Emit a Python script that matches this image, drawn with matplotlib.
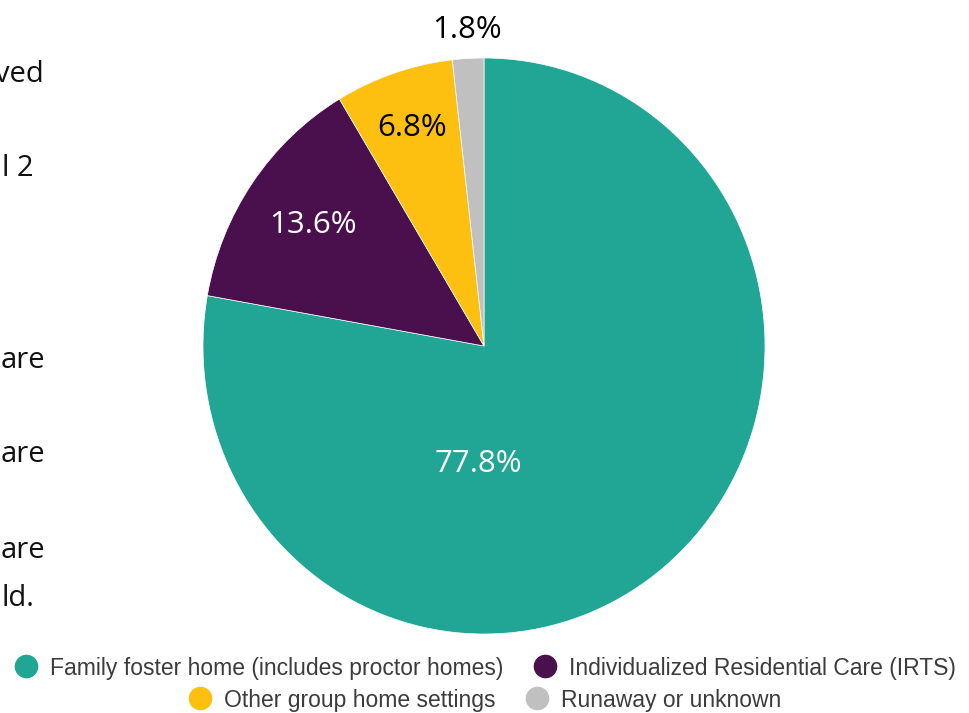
import numpy as np
import matplotlib

matplotlib.use("Agg")
import matplotlib.pyplot as plt  # noqa: E402
from matplotlib.lines import Line2D  # noqa: E402

categories = [
    "Family foster home (includes proctor homes)",
    "Individualized Residential Care (IRTS)",
    "Other group home settings",
    "Runaway or unknown",
]
shares = [77.8, 13.6, 6.8, 1.8]
colors = ["#21a696", "#4a0f4d", "#fdc010", "#c0c0c0"]
label_colors = ["white", "white", "black", "black"]
label_radius = [0.40, 0.74, 0.80, 1.10]

# cut-off text from the left edge of the original page
side_text = ["ved", "l 2", "are", "are", "are", "ld."]
side_pos = [(44, 75), (34, 168), (45, 360), (45, 455), (45, 550), (34, 598)]

W, H = 970, 713
fig = plt.figure(figsize=(W / 100, H / 100), dpi=100)

cx, cy, rx, ry = 484, 346, 281, 288
ax = fig.add_axes([(cx - rx) / W, 1 - (cy + ry) / H, 2 * rx / W, 2 * ry / H])
wedges, _ = ax.pie(
    shares,
    colors=colors,
    startangle=90,
    counterclock=False,
    wedgeprops=dict(edgecolor="white", linewidth=0.5),
)
ax.set_aspect("auto")
ax.set_xlim(-1, 1)
ax.set_ylim(-1, 1)

for w, val, col, r in zip(wedges, shares, label_colors, label_radius):
    mid = np.deg2rad((w.theta1 + w.theta2) / 2)
    x, y = r * np.cos(mid), r * np.sin(mid)
    if val > 50:
        # big slice: label sits just below the centre
        x, y = -0.02, -0.41
    ax.text(x, y, f"{val:.1f}%", color=col, ha="center", va="center",
            fontsize=22.5, family="Open Sans")

for txt, (x, y) in zip(side_text, side_pos):
    fig.text(x / W, 1 - y / H, txt, ha="right", va="center",
             fontsize=21, family="Open Sans", color="#111111")

rows = [(0, 2, 668), (2, 4, 700)]
for a, b, y in rows:
    handles = [
        Line2D([], [], marker="o", linestyle="none", markersize=16,
               markerfacecolor=colors[i], markeredgecolor=colors[i])
        for i in range(a, b)
    ]
    leg = fig.legend(
        handles, categories[a:b], loc="center", ncol=2,
        bbox_to_anchor=(485 / W, 1 - y / H), frameon=False,
        prop={"family": "Liberation Sans", "size": 16.5},
        handletextpad=0.55, columnspacing=1.3, handlelength=1.0,
        borderpad=0, borderaxespad=0,
    )
    for t in leg.get_texts():
        t.set_color("#3c3c3c")

fig.savefig("out.png", dpi=100)
